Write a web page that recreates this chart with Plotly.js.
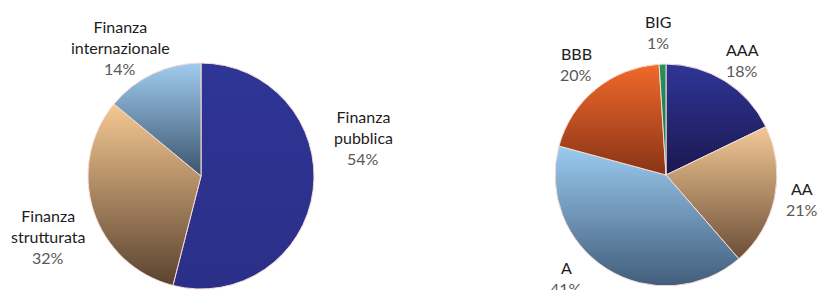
<!DOCTYPE html>
<html>
<head>
<meta charset="utf-8">
<script src="https://cdn.plot.ly/plotly-3.0.1.min.js"></script>
<style>html,body{margin:0;padding:0;background:#fff;}#chart{width:819px;height:290px;}</style>
</head>
<body>
<div id="chart"></div>
<script>
// Left pie: business area
const leftLabels = ["Finanza pubblica", "Finanza strutturata", "Finanza internazionale"];
const leftNames = ["Finanza<br>pubblica", "Finanza<br>strutturata", "Finanza<br>internazionale"];
const leftValues = [54, 32, 14];
const leftPct = ["54%", "32%", "14%"];

// Right pie: rating
const rightLabels = ["AAA", "AA", "A", "BBB", "BIG"];
const rightValues = [18, 21, 41, 20, 1];
const rightPct = ["18%", "21%", "41%", "20%", "1%"];

// colours (base fill, plus vertical shading top -> bottom)
const leftColors = ["#2e3494", "#b38a62", "#6e97bd"];
const leftShade = [["#2f3596", "#2b2f88"], ["#f5c891", "#5a4230"], ["#a0ccef", "#3b546d"]];
const rightColors = ["#262a7c", "#bb9168", "#6f9bc6", "#c9561f", "#1f8a5a"];
const rightShade = [["#2f3596", "#1a1850"], ["#f3c996", "#6c4e37"], ["#9bcbf1", "#425d7b"], ["#f1692b", "#883317"], ["#22935f", "#1a7048"]];

const sliceLine = {color: "#f6dcd4", width: 1};

const traces = [
  {
    type: "pie", labels: leftLabels, values: leftValues, sort: false,
    direction: "clockwise", rotation: 0, textinfo: "none", hoverinfo: "label+percent",
    marker: {colors: leftColors, line: sliceLine},
    domain: {x: [0.1075, 0.3834], y: [0.003, 0.783]}, showlegend: false
  },
  {
    type: "pie", labels: rightLabels, values: rightValues, sort: false,
    direction: "clockwise", rotation: 0, textinfo: "none", hoverinfo: "label+percent",
    marker: {colors: rightColors, line: sliceLine},
    domain: {x: [0.6777, 0.9487], y: [0.014, 0.779]}, showlegend: false
  }
];

// label positions (pixel centers of first line)
const leftPos = [[363, 115], [48, 214], [120, 25]];
const rightPos = [[742, 48], [802, 187], [566, 266], [576, 52], [658, 20]];

const W = 819, H = 290;
const annotations = [];
function addLabel(name, pct, pos, lines) {
  const nameH = 21 * lines;
  annotations.push({
    xref: "paper", yref: "paper", x: pos[0] / W, y: 1 - (pos[1] - 10) / H,
    xanchor: "center", yanchor: "top", showarrow: false, align: "center",
    text: name, font: {family: "Lato, sans-serif", size: 16, color: "#1e1c1d", weight: 400}
  });
  annotations.push({
    xref: "paper", yref: "paper", x: pos[0] / W, y: 1 - (pos[1] - 10 + nameH) / H,
    xanchor: "center", yanchor: "top", showarrow: false, align: "center",
    text: pct, font: {family: "Lato, sans-serif", size: 16, color: "#58585a", weight: 400}
  });
}
leftNames.forEach((n, i) => addLabel(n, leftPct[i], leftPos[i], 2));
rightLabels.forEach((n, i) => addLabel(n, rightPct[i], rightPos[i], 1));

const layout = {
  width: W, height: H, margin: {l: 0, r: 0, t: 0, b: 0},
  paper_bgcolor: "#ffffff", plot_bgcolor: "#ffffff",
  annotations: annotations
};
Plotly.newPlot("chart", traces, layout, {displayModeBar: false, staticPlot: true}).then(gd => {
  const svg = gd.querySelector("svg.main-svg");
  const NS = "http://www.w3.org/2000/svg";
  const defs = document.createElementNS(NS, "defs");
  svg.insertBefore(defs, svg.firstChild);
  const shades = [leftShade, rightShade];
  gd.querySelectorAll("g.trace").forEach((tr, ti) => {
    tr.querySelectorAll("g.slice").forEach((sl, si) => {
      const sh = shades[ti] && shades[ti][si];
      if (!sh) return;
      const id = "grad_" + ti + "_" + si;
      const g = document.createElementNS(NS, "linearGradient");
      g.setAttribute("id", id);
      g.setAttribute("x1", "0"); g.setAttribute("y1", "0");
      g.setAttribute("x2", "0"); g.setAttribute("y2", "1");
      [[0, sh[0]], [1, sh[1]]].forEach(([o, c]) => {
        const s = document.createElementNS(NS, "stop");
        s.setAttribute("offset", o);
        s.setAttribute("stop-color", c);
        g.appendChild(s);
      });
      defs.appendChild(g);
      const p = sl.querySelector("path.surface");
      if (p) p.style.fill = "url(#" + id + ")";
    });
  });
});
</script>
</body>
</html>
